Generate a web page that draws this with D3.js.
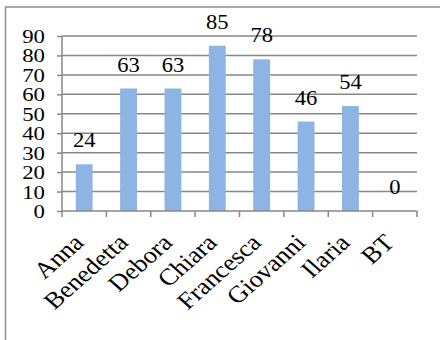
<!DOCTYPE html>
<html>
<head>
<meta charset="utf-8">
<script src="https://cdn.jsdelivr.net/npm/d3@7"></script>
<style>
  html, body { margin: 0; padding: 0; background: #fff; }
  svg { display: block; }
</style>
</head>
<body>
<div id="chart"></div>
<script>
// Scores per person
const categories = ["Anna", "Benedetta", "Debora", "Chiara", "Francesca", "Giovanni", "Ilaria", "BT"];
const values = [24, 63, 63, 85, 78, 46, 54, 0];
const yTicks = [0, 10, 20, 30, 40, 50, 60, 70, 80, 90];

const W = 440, H = 340;
const margin = { left: 62, right: 23, top: 36, bottom: 129 };
const gridColor = "#878787";
const fontFamily = '"Liberation Serif"';

function styleText(sel, size) {
  sel.style("font-family", fontFamily).style("font-size", size + "px").attr("fill", "#000");
}

const svg = d3.select("#chart").append("svg")
  .attr("width", W).attr("height", H);

// outer chart frame (runs past the right and bottom edges)
svg.append("rect")
  .attr("x", 5.5).attr("y", 7)
  .attr("width", W + 10).attr("height", H + 10)
  .attr("fill", "none").attr("stroke", "#8c8c8c").attr("stroke-width", 1.5);

const xOuter = d3.scaleBand()
  .domain(categories)
  .range([margin.left, W - margin.right]);

const x = d3.scaleBand()
  .domain(categories)
  .range([margin.left, W - margin.right])
  .paddingInner(0.62).paddingOuter(0.31);

const y = d3.scaleLinear()
  .domain([0, 90])
  .range([H - margin.bottom, margin.top]);

// horizontal gridlines
svg.append("g")
  .selectAll("line")
  .data(yTicks.filter(d => d > 0))
  .join("line")
  .attr("x1", margin.left).attr("x2", W - margin.right)
  .attr("y1", d => y(d)).attr("y2", d => y(d))
  .attr("stroke", gridColor).attr("stroke-width", 1.5);

// y axis
const yAxis = svg.append("g")
  .attr("transform", `translate(${margin.left},0)`)
  .call(d3.axisLeft(y).tickValues(yTicks).tickSize(5).tickPadding(10));
yAxis.selectAll("line").attr("stroke", gridColor).attr("stroke-width", 1.5);
yAxis.select(".domain").attr("stroke", gridColor).attr("stroke-width", 1.5)
  .attr("d", `M0,${y(0)}V${y(90)}`);
yAxis.selectAll("text")
  .call(styleText, 19)
  .attr("x", 0)
  .attr("dy", "0.34em")
  .attr("transform", "translate(-17,0) scale(1.2,1)");

// bars
svg.append("g")
  .selectAll("rect")
  .data(values)
  .join("rect")
  .attr("x", (d, i) => x(categories[i]))
  .attr("width", x.bandwidth())
  .attr("y", d => y(d))
  .attr("height", d => y(0) - y(d))
  .attr("fill", "#8db4e2");

// x axis with ticks between categories
const xAxis = svg.append("g")
  .attr("transform", `translate(0,${y(0)})`);
xAxis.append("line")
  .attr("x1", margin.left).attr("x2", W - margin.right)
  .attr("stroke", gridColor).attr("stroke-width", 1.5);
const bounds = categories.map(c => xOuter(c)).concat([xOuter(categories[categories.length - 1]) + xOuter.bandwidth()]);
xAxis.selectAll("line.tick")
  .data(bounds)
  .join("line")
  .attr("class", "tick")
  .attr("x1", d => d).attr("x2", d => d)
  .attr("y1", 0).attr("y2", 6)
  .attr("stroke", gridColor).attr("stroke-width", 1.5);

// category labels, rotated
svg.append("g")
  .selectAll("text")
  .data(categories)
  .join("text")
  .attr("transform", d => `translate(${xOuter(d) + xOuter.bandwidth() / 2 + 1},${y(0) + 33}) scale(1.13,1) rotate(-45)`)
  .attr("text-anchor", "end")
  .call(styleText, 23.5)
  .text(d => d);

// value labels
svg.append("g")
  .selectAll("text")
  .data(values)
  .join("text")
  .attr("transform", (d, i) => `translate(${x(categories[i]) + x.bandwidth() / 2},${y(d) - 17}) scale(1.1,1)`)
  .attr("text-anchor", "middle")
  .call(styleText, 20.5)
  .text(d => d);
</script>
</body>
</html>
